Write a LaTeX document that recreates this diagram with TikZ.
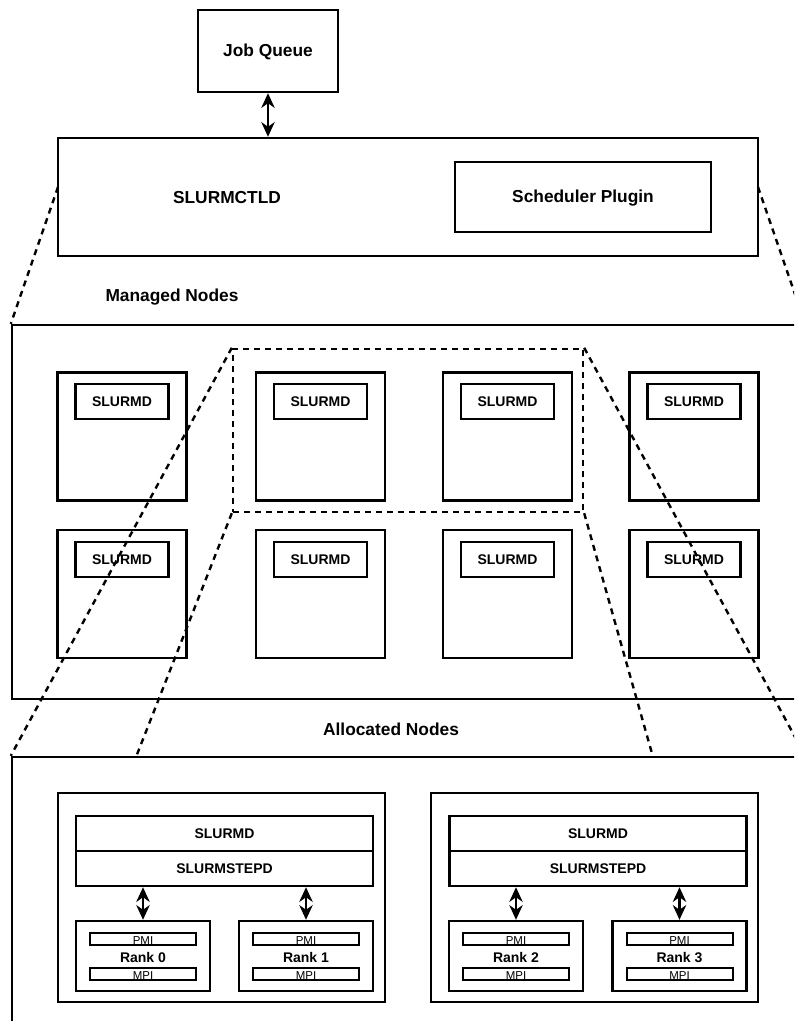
\documentclass[tikz,border=0pt]{standalone}
\usepackage{fontspec}
\setmainfont{Liberation Sans}
\usetikzlibrary{arrows.meta,calc}
\tikzset{
  box/.style={draw, line width=1.8pt, rectangle, inner sep=0pt},
  sz/.style 2 args={minimum width=#1*0.75pt, minimum height=#2*0.75pt},
  bigtxt/.style={font=\fontsize{13}{15}\selectfont\bfseries, inner sep=0pt},
  midtxt/.style={font=\fontsize{10.5}{12}\selectfont\bfseries, inner sep=0pt},
  tinytxt/.style={font=\fontsize{8.6}{10}\selectfont, inner sep=0pt},
  guide/.style={line width=1.8pt, dash pattern=on 4.5pt off 3.75pt},
  arr/.style={line width=1.8pt,
    {Stealth[length=11pt,width=10pt,inset=3.5pt]}-{Stealth[length=11pt,width=10pt,inset=3.5pt]}},
}
\begin{document}
\begin{tikzpicture}[x=0.75pt,y=-0.75pt]
\useasboundingbox (0,0) rectangle (794,1021);
\clip (0,0) rectangle (794,1021);

% controller
\node[box, sz={140}{82}] (jq) at (268,51) {};
\node[bigtxt] (jqt) at (268,52) {Job Queue};
\node[box, sz={700}{118}] (ctl) at (408,197) {};
\node[bigtxt] (ctlt) at (227,198) {SLURMCTLD};
\node[box, sz={256}{70}] (sched) at (583,197) {};
\node[bigtxt] (schedt) at (583,198) {Scheduler Plugin};
\draw[arr] (jq.south) -- (ctl.north -| jq.south);

% managed nodes
\node[bigtxt] (mlabel) at (172,297) {Managed Nodes};
\node[box, sz={792}{374}] (managed) at (408,512) {};
\coordinate (cl) at (58,187);
\coordinate (cr) at (758,187);
\draw[guide] (cl) -- (managed.north west);
\draw[guide] (cr) -- (managed.north east);

\foreach \c/\x in {1/122, 2/320.5, 3/507.5, 4/694} {
  \foreach \r/\y/\yy in {1/436.5/401.5, 2/594/559.5} {
    \node[box, sz={129}{128}] (n\c\r) at (\x,\y) {};
    \node[box, sz={93}{35}] (d\c\r) at (\x,\yy) {};
    \node[midtxt] at (d\c\r.center) {SLURMD};
  }
}

% selected nodes
\node[draw, guide, rectangle, inner sep=0pt, sz={350}{163}] (sel) at (408,430.5) {};

% allocated nodes
\node[bigtxt] (alabel) at (391,729) {Allocated Nodes};
\node[box, sz={792}{400}] (alloc) at (408,957) {};
\coordinate (a1) at (136,757);
\coordinate (a2) at (653,757);
\draw[guide] (sel.north west) -- (alloc.north west);
\draw[guide] (sel.north east) -- (alloc.north east);
\draw[guide] (sel.south west) -- (a1);
\draw[guide] (sel.south east) -- (a2);

% node 1 and node 2
\foreach \k/\cx/\bx/\ra/\rb/\na/\nb in {1/221.5/224.5/143/306/0/1, 2/594.5/598/516/679.5/2/3} {
  \node[box, sz={327}{209}] (host\k) at (\cx,897.5) {};
  \node[box, sz={297}{35}] (sd\k) at (\bx,833.5) {};
  \node[midtxt] at (sd\k.center) {SLURMD};
  \node[box, sz={297}{35}] (st\k) at (\bx,868.5) {};
  \node[midtxt] at (st\k.center) {SLURMSTEPD};
  \foreach \rx/\rn in {\ra/\na, \rb/\nb} {
    \node[box, sz={134}{70}] (rank\rn) at (\rx,956) {};
    \node[midtxt] at (\rx,957) {Rank \rn};
    \node[box, line width=1.5pt, sz={106}{12}] (pmi\rn) at (\rx,939) {};
    \node[tinytxt] at (\rx,941) {PMI};
    \node[box, line width=1.5pt, sz={106}{12}] (mpi\rn) at (\rx,973.5) {};
    \node[tinytxt] at (\rx,975.5) {MPI};
    \draw[arr] (st\k.south -| rank\rn.north) -- (rank\rn.north);
  }
}
\end{tikzpicture}
\end{document}
